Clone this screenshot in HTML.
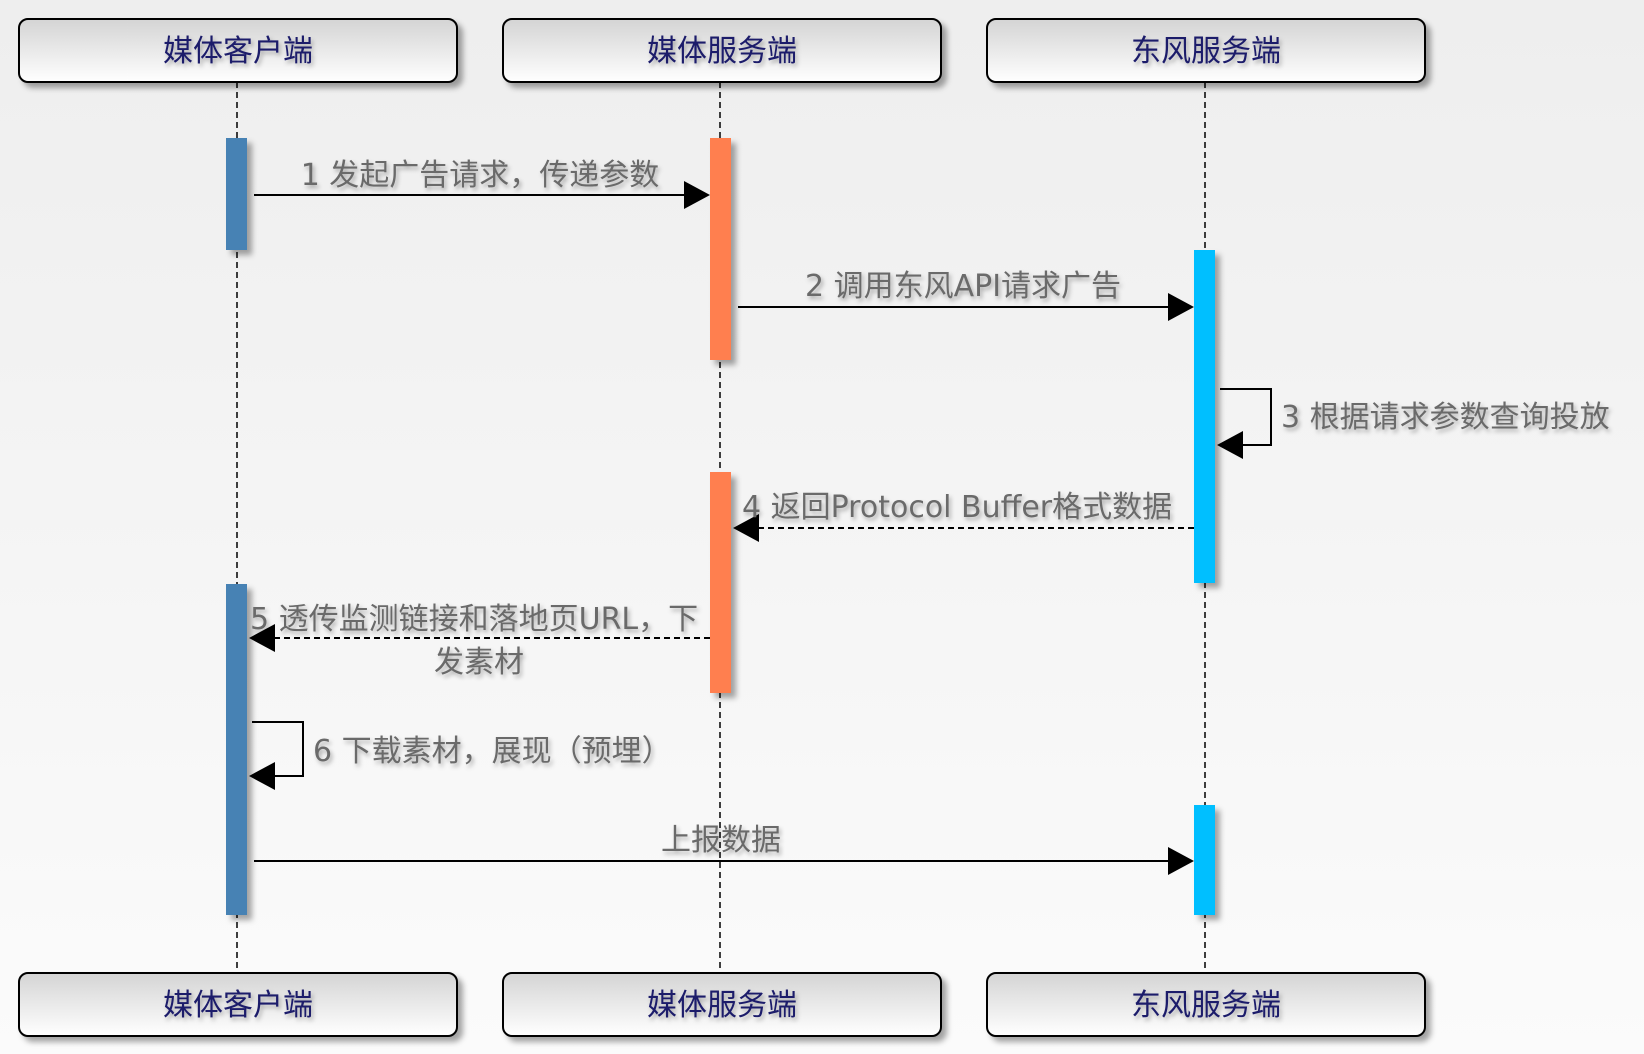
<!DOCTYPE html>
<html><head><meta charset="utf-8"><style>
html,body{margin:0;padding:0;}
body{width:1644px;height:1054px;overflow:hidden;background:linear-gradient(#eeeeee,#fbfbfb);}
svg{display:block;}
text{font-family:"Liberation Sans","Noto Sans CJK SC",sans-serif;}
.t{fill:#1b1b6b;font-size:30px;}
.l{fill:#6b6b6b;font-size:30px;font-family:"DejaVu Sans","Noto Sans CJK SC",sans-serif;}
</style></head><body>
<svg width="1644" height="1054" viewBox="0 0 1644 1054" xmlns="http://www.w3.org/2000/svg">
<defs>
<linearGradient id="bg" x1="0" y1="0" x2="0" y2="1"><stop offset="0" stop-color="#d4d4d4"/><stop offset="1" stop-color="#ffffff"/></linearGradient>
<filter id="sh" x="-20%" y="-20%" width="150%" height="160%"><feDropShadow dx="5" dy="5" stdDeviation="3" flood-color="#000" flood-opacity="0.35"/></filter>
<filter id="ts" x="-10%" y="-30%" width="130%" height="180%"><feDropShadow dx="2" dy="3" stdDeviation="2" flood-color="#000" flood-opacity="0.3"/></filter>
</defs>
<g stroke="#000" stroke-width="1.5" stroke-dasharray="6,4">
<line x1="237" y1="82" x2="237" y2="973"/>
<line x1="720" y1="82" x2="720" y2="973"/>
<line x1="1205" y1="82" x2="1205" y2="973"/>
</g>
<g filter="url(#sh)" fill="url(#bg)" stroke="#000" stroke-width="2">
<rect x="19" y="19" width="438" height="63" rx="9"/>
<rect x="503" y="19" width="438" height="63" rx="9"/>
<rect x="987" y="19" width="438" height="63" rx="9"/>
<rect x="19" y="973" width="438" height="63" rx="9"/>
<rect x="503" y="973" width="438" height="63" rx="9"/>
<rect x="987" y="973" width="438" height="63" rx="9"/>
</g>
<g text-anchor="middle" filter="url(#ts)">
<text x="238" y="61" class="t">媒体客户端</text>
<text x="722" y="61" class="t">媒体服务端</text>
<text x="1206" y="61" class="t">东风服务端</text>
<text x="238" y="1015" class="t">媒体客户端</text>
<text x="722" y="1015" class="t">媒体服务端</text>
<text x="1206" y="1015" class="t">东风服务端</text>
</g>
<g filter="url(#sh)">
<rect x="226" y="138" width="21" height="112" fill="#4682b4"/>
<rect x="710" y="138" width="21" height="222" fill="#ff7f50"/>
<rect x="1194" y="250" width="21" height="333" fill="#00bfff"/>
<rect x="710" y="472" width="21" height="221" fill="#ff7f50"/>
<rect x="226" y="584" width="21" height="331" fill="#4682b4"/>
<rect x="1194" y="805" width="21" height="110" fill="#00bfff"/>
</g>
<g stroke="#000" stroke-width="2" fill="none">
<line x1="254" y1="195" x2="688" y2="195"/>
<line x1="738" y1="307" x2="1172" y2="307"/>
<polyline points="1220,389 1271,389 1271,445 1237,445"/>
<line x1="1194" y1="528" x2="752" y2="528" stroke-dasharray="6,4"/>
<line x1="710" y1="638" x2="269" y2="638" stroke-dasharray="6,4"/>
<polyline points="252,722 303,722 303,776 269,776"/>
<line x1="254" y1="861" x2="1172" y2="861"/>
</g>
<g fill="#000">
<polygon points="710,195 684,181 684,209"/>
<polygon points="1194,307 1168,293 1168,321"/>
<polygon points="1217,445 1243,431 1243,459"/>
<polygon points="733,528 759,514 759,542"/>
<polygon points="249,638 275,624 275,652"/>
<polygon points="249,776 275,762 275,790"/>
<polygon points="1194,861 1168,847 1168,875"/>
</g>
<g filter="url(#ts)">
<text x="480" y="185" text-anchor="middle" class="l">1 发起广告请求，传递参数</text>
<text x="963" y="296" text-anchor="middle" class="l">2 调用东风API请求广告</text>
<text x="1281" y="427" class="l">3 根据请求参数查询投放</text>
<text x="742" y="517" class="l">4 返回Protocol Buffer格式数据</text>
<text x="250" y="629" class="l">5 透传监测链接和落地页URL，下</text>
<text x="479" y="672" text-anchor="middle" class="l">发素材</text>
<text x="313" y="761" class="l">6 下载素材，展现（预埋）</text>
<text x="721" y="850" text-anchor="middle" class="l">上报数据</text>
</g>
</svg>
</body></html>
